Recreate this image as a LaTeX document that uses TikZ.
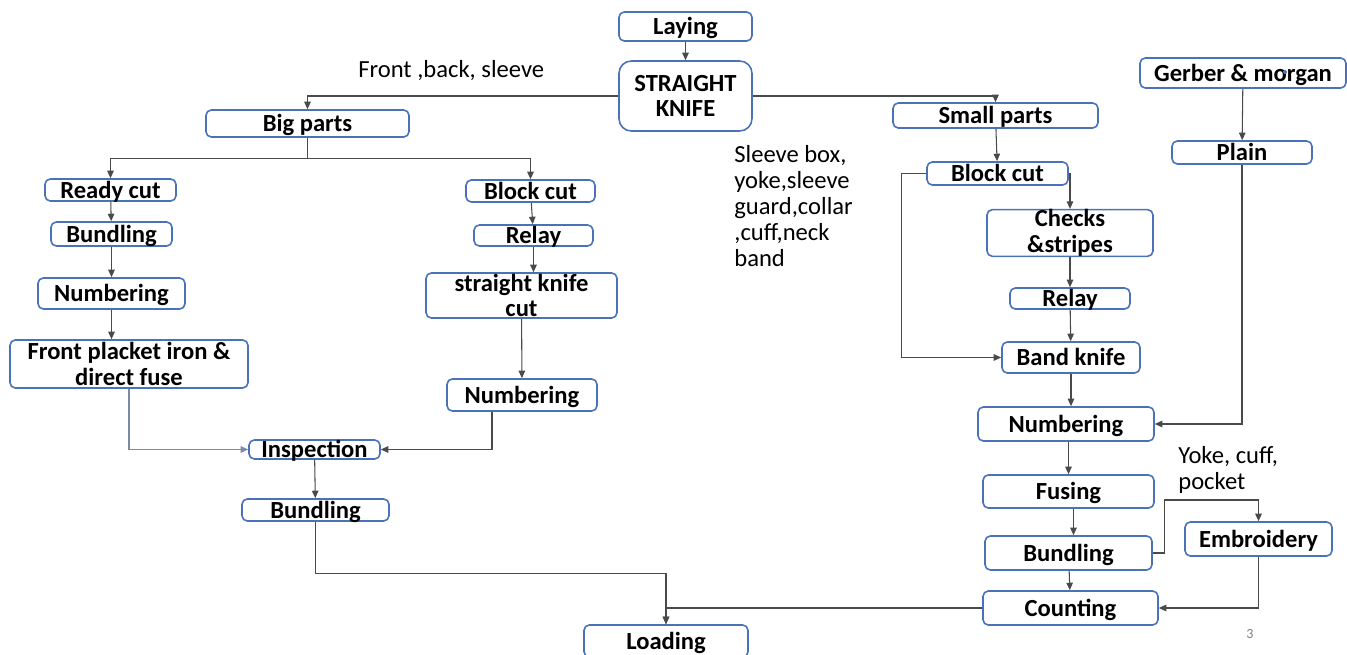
\documentclass[tikz,border=0pt]{standalone}
\usepackage{fontspec}
\setmainfont{Carlito}
\usetikzlibrary{positioning,arrows.meta}
\definecolor{boxblue}{HTML}{4A72B8}
\definecolor{linegray}{HTML}{4A4A4A}
\definecolor{lightline}{HTML}{7D8AA3}

\begin{document}
\begin{tikzpicture}[x=0.02cm,y=-0.02cm,
	stage/.style={draw=boxblue,line width=0.9pt,rounded corners=3pt,inner sep=0pt,align=center,font=\fontsize{14}{14.5}\selectfont\bfseries},
	flat/.style={text height=10pt,text depth=0.5pt},
	link/.style={draw=linegray,line width=0.6pt,-{Triangle[length=1.5mm,width=1.3mm]}},
	plainlink/.style={draw=linegray,line width=0.6pt},
	note/.style={font=\fontsize{14}{14.8}\selectfont,align=left,inner sep=0pt}]
		\useasboundingbox (0,0) rectangle (1347,655);
		
		\node[stage,flat,minimum width=2.66cm,minimum height=0.58cm] (laying) at (685.5,26.5) {Laying};
		\node[stage,rounded corners=7pt,minimum width=2.66cm,minimum height=1.40cm] (knife) at (685.5,96) {STRAIGHT\\KNIFE};
		
		\node[stage,flat,minimum width=4.06cm,minimum height=0.54cm] (bigparts) at (307.5,123.5) {Big parts};
		\node[stage,flat,minimum width=4.10cm,minimum height=0.50cm] (smallparts) at (995.5,115.5) {Small parts};
		\node[stage,flat,minimum width=4.12cm,minimum height=0.60cm] (gerber) at (1243,73) {Gerber \& morgan};
		\node[stage,flat,minimum width=2.80cm,minimum height=0.46cm] (plain) at (1242,152.5) {Plain};
		
		% big parts side
		\node[stage,flat,minimum width=2.62cm,minimum height=0.44cm] (readycut) at (110.5,190) {Ready cut};
		\node[stage,flat,minimum width=2.42cm,minimum height=0.48cm] (bundlingA) at (111.5,234) {Bundling};
		\node[stage,flat,minimum width=2.94cm,minimum height=0.62cm] (numberingA) at (111.5,293.5) {Numbering};
		\node[stage,minimum width=4.76cm,minimum height=0.96cm] (placket) at (129,364) {Front placket iron \&\\direct fuse};
		
		\node[stage,flat,minimum width=2.58cm,minimum height=0.44cm] (blockcutL) at (530.5,191) {Block cut};
		\node[stage,flat,minimum width=2.38cm,minimum height=0.42cm] (relayL) at (533.5,235.5) {Relay};
		\node[stage,minimum width=3.82cm,minimum height=0.90cm] (skcut) at (521.5,295.5) {straight knife\\cut};
		\node[stage,flat,minimum width=3.00cm,minimum height=0.64cm] (numberingB) at (522,395) {Numbering};
		
		\node[stage,flat,minimum width=2.62cm,minimum height=0.38cm] (inspection) at (314.5,449.5) {Inspection};
		\node[stage,flat,minimum width=2.94cm,minimum height=0.44cm] (bundlingB) at (315.5,510) {Bundling};
		\node[stage,flat,minimum width=3.28cm,minimum height=0.64cm] (loading) at (666,641) {Loading};
		
		% small parts side
		\node[stage,flat,minimum width=2.82cm,minimum height=0.46cm] (blockcutR) at (997.5,173.5) {Block cut};
		\node[stage,minimum width=3.32cm,minimum height=0.88cm] (checks) at (1070,233) {Checks\\\&stripes};
		\node[stage,flat,minimum width=2.40cm,minimum height=0.42cm] (relayR) at (1070,298.5) {Relay};
		\node[stage,flat,minimum width=2.76cm,minimum height=0.62cm] (bandknife) at (1071,357.5) {Band knife};
		\node[stage,flat,minimum width=3.52cm,minimum height=0.68cm] (numberingC) at (1066,424) {Numbering};
		\node[stage,flat,minimum width=3.42cm,minimum height=0.66cm] (fusing) at (1068.5,491.5) {Fusing};
		\node[stage,flat,minimum width=3.34cm,minimum height=0.68cm] (bundlingC) at (1068.5,553) {Bundling};
		\node[stage,flat,minimum width=2.94cm,minimum height=0.68cm] (embroidery) at (1258.5,539) {Embroidery};
		\node[stage,flat,minimum width=3.50cm,minimum height=0.68cm] (counting) at (1070.5,608) {Counting};
		
		% notes
		\node[note,anchor=west] (bignote) at (358,71) {Front ,back, sleeve};
		\node[note,anchor=north west] (smallnote) at (734,145) {Sleeve box,\\yoke,sleeve\\guard,collar\\,cuff,neck\\band};
		\node[note,anchor=north west] (embnote) at (1178,446) {Yoke, cuff,\\pocket};
		\node[font=\fontsize{8}{9}\selectfont,text=gray,inner sep=0pt] (pagenum) at (1250,634) {3};
		\fill[boxblue] (1285,72) circle (0.04cm);
		
		% connectors
		\draw[link] (laying) -- (knife);
		\draw[link] (knife.west) -| (bigparts.north);
		\draw[link] (knife.east) -| (smallparts.north);
		
		\draw[plainlink] (bigparts.south) -- ++(0,21) coordinate (bigsplit);
		\draw[link] (bigsplit) -| (readycut.north);
		\draw[link] (bigsplit) -| (blockcutL.north);
		\draw[link] (readycut) -- (bundlingA);
		\draw[link] (bundlingA) -- (numberingA);
		\draw[link] (numberingA.south) -- (numberingA.south |- placket.north);
		\draw[link] (blockcutL) -- (relayL);
		\draw[link] (relayL.south) -- (relayL.south |- skcut.north);
		\draw[link] (skcut) -- (numberingB);
		\draw[link,draw=lightline] (placket.south) |- (inspection.west);
		\draw[link] ([xshift=-0.6cm]numberingB.south) |- (inspection.east);
		\draw[link] (inspection) -- (bundlingB);
		\draw[link] (bundlingB.south) -- ++(0,52) -| (loading.north);
		\draw[link] (counting.west) -| (loading.north);
		
		\draw[link] (smallparts) -- (blockcutR);
		\draw[link] (blockcutR.east) -| (checks.north);
		\draw[link] (blockcutR.west) -- ++(-25,0) |- (bandknife.west);
		\draw[link] (checks) -- (relayR);
		\draw[link] (relayR) -- (bandknife);
		\draw[link] (bandknife.south) -- (bandknife.south |- numberingC.north);
		\draw[link] (gerber) -- (plain);
		\draw[link] (plain.south) |- (numberingC.east);
		\draw[link] (fusing.north |- numberingC.south) -- (fusing.north);
		\draw[link] ([xshift=0.1cm]fusing.south) -- ([xshift=0.1cm]bundlingC.north);
		\draw[link] (bundlingC.east) -- ++(12,0) -- ++(0,-53) -| (embroidery.north);
		\draw[link] (bundlingC) -- (counting);
		\draw[link] (embroidery.south) |- (counting.east);
	\end{tikzpicture}
\end{document}
